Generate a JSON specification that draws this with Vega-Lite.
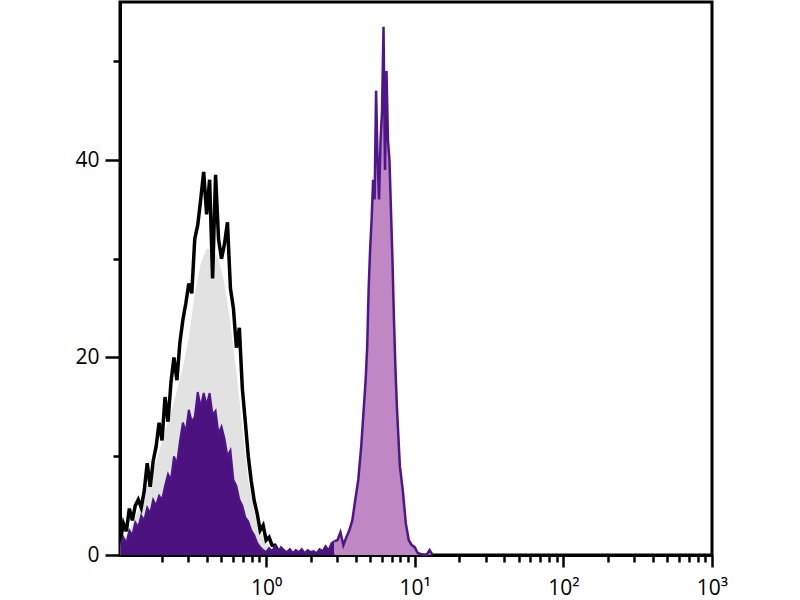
{
  "$schema": "https://vega.github.io/schema/vega-lite/v6.json",
  "width": 592,
  "height": 553,
  "autosize": "none",
  "padding": {"left": 120, "top": 2, "right": 88, "bottom": 45},
  "background": "white",
  "config": {
    "view": {"stroke": "black", "strokeWidth": 3},
    "axis": {"labelFont": "Open Sans", "labelColor": "black", "domainColor": "black", "tickColor": "black", "domainWidth": 3, "tickWidth": 2.5, "grid": false, "title": null, "labelOverlap": false, "labelFlush": false, "labelBound": false}
  },
  "datasets": {
    "ctrlFill": [
      {"v": 0.1047, "count": 1.0}, {"v": 0.1202, "count": 2.5}, {"v": 0.138, "count": 4.5}, {"v": 0.1585, "count": 7.0},
      {"v": 0.182, "count": 9.5}, {"v": 0.2089, "count": 12.5}, {"v": 0.2399, "count": 15.5}, {"v": 0.2754, "count": 19.0},
      {"v": 0.302, "count": 22.0}, {"v": 0.3311, "count": 26.5}, {"v": 0.3631, "count": 29.5}, {"v": 0.3981, "count": 31.0},
      {"v": 0.4365, "count": 31.0}, {"v": 0.4786, "count": 30.0}, {"v": 0.5248, "count": 27.5}, {"v": 0.5754, "count": 23.5},
      {"v": 0.631, "count": 18.5}, {"v": 0.6918, "count": 13.0}, {"v": 0.7586, "count": 7.5}, {"v": 0.8318, "count": 4.5},
      {"v": 0.912, "count": 2.5}, {"v": 1.0, "count": 1.2}, {"v": 1.096, "count": 0.5}, {"v": 1.259, "count": 0}
    ],
    "ctrl": [
      {"v": 0.1047, "count": 1.5}, {"v": 0.1096, "count": 3.2}, {"v": 0.1148, "count": 2.4}, {"v": 0.1202, "count": 4.7},
      {"v": 0.1259, "count": 3.5}, {"v": 0.1318, "count": 5.0}, {"v": 0.138, "count": 5.6}, {"v": 0.1445, "count": 4.8},
      {"v": 0.1514, "count": 6.5}, {"v": 0.1585, "count": 9.3}, {"v": 0.166, "count": 6.9}, {"v": 0.1738, "count": 9.5},
      {"v": 0.182, "count": 11.0}, {"v": 0.1905, "count": 13.4}, {"v": 0.1995, "count": 11.6}, {"v": 0.2089, "count": 16.0},
      {"v": 0.2188, "count": 13.5}, {"v": 0.2291, "count": 17.5}, {"v": 0.2399, "count": 20.0}, {"v": 0.2512, "count": 17.7},
      {"v": 0.263, "count": 21.5}, {"v": 0.2754, "count": 23.8}, {"v": 0.2884, "count": 25.5}, {"v": 0.302, "count": 27.5},
      {"v": 0.3162, "count": 26.5}, {"v": 0.3311, "count": 32.0}, {"v": 0.3467, "count": 33.4}, {"v": 0.3631, "count": 36.0},
      {"v": 0.3802, "count": 38.8}, {"v": 0.3981, "count": 34.5}, {"v": 0.4169, "count": 38.0}, {"v": 0.4365, "count": 28.0},
      {"v": 0.4571, "count": 38.5}, {"v": 0.4786, "count": 32.0}, {"v": 0.5012, "count": 30.0}, {"v": 0.5248, "count": 31.5},
      {"v": 0.5495, "count": 33.7}, {"v": 0.5754, "count": 27.0}, {"v": 0.6026, "count": 25.0}, {"v": 0.631, "count": 21.0},
      {"v": 0.6607, "count": 23.0}, {"v": 0.6918, "count": 16.9}, {"v": 0.7244, "count": 13.5}, {"v": 0.7586, "count": 10.0},
      {"v": 0.7943, "count": 7.5}, {"v": 0.8318, "count": 5.5}, {"v": 0.871, "count": 4.2}, {"v": 0.912, "count": 2.5},
      {"v": 0.955, "count": 3.0}, {"v": 1.0, "count": 1.5}, {"v": 1.047, "count": 1.8}, {"v": 1.096, "count": 1.0},
      {"v": 1.148, "count": 1.0}, {"v": 1.202, "count": 0.4}, {"v": 1.259, "count": 0.2}, {"v": 1.318, "count": 0}
    ],
    "stainedLow": [
      {"v": 0.1047, "count": 1.0}, {"v": 0.1096, "count": 1.8}, {"v": 0.1148, "count": 1.2}, {"v": 0.1202, "count": 2.5},
      {"v": 0.1259, "count": 2.0}, {"v": 0.1318, "count": 3.3}, {"v": 0.138, "count": 2.8}, {"v": 0.1445, "count": 4.0},
      {"v": 0.1514, "count": 3.5}, {"v": 0.1585, "count": 4.8}, {"v": 0.166, "count": 4.2}, {"v": 0.1738, "count": 5.6},
      {"v": 0.182, "count": 5.0}, {"v": 0.1905, "count": 6.0}, {"v": 0.1995, "count": 5.6}, {"v": 0.2089, "count": 7.0},
      {"v": 0.2188, "count": 8.2}, {"v": 0.2291, "count": 7.6}, {"v": 0.2399, "count": 10.0}, {"v": 0.2512, "count": 9.2},
      {"v": 0.263, "count": 11.5}, {"v": 0.2754, "count": 13.4}, {"v": 0.2884, "count": 12.5}, {"v": 0.302, "count": 14.7},
      {"v": 0.3162, "count": 13.5}, {"v": 0.3311, "count": 14.0}, {"v": 0.3467, "count": 16.5}, {"v": 0.3631, "count": 15.0},
      {"v": 0.3802, "count": 16.4}, {"v": 0.3981, "count": 15.2}, {"v": 0.4169, "count": 16.4}, {"v": 0.4365, "count": 14.2},
      {"v": 0.4571, "count": 14.6}, {"v": 0.4786, "count": 12.3}, {"v": 0.5012, "count": 13.0}, {"v": 0.5248, "count": 11.8},
      {"v": 0.5495, "count": 10.0}, {"v": 0.5754, "count": 10.6}, {"v": 0.6026, "count": 7.6}, {"v": 0.631, "count": 7.0},
      {"v": 0.6607, "count": 5.6}, {"v": 0.6918, "count": 5.0}, {"v": 0.7244, "count": 3.8}, {"v": 0.7586, "count": 3.4},
      {"v": 0.7943, "count": 2.5}, {"v": 0.8318, "count": 2.0}, {"v": 0.871, "count": 1.2}, {"v": 0.912, "count": 0.8},
      {"v": 0.955, "count": 0.5}, {"v": 1.0, "count": 0.3}, {"v": 1.047, "count": 0.7}, {"v": 1.096, "count": 0.4},
      {"v": 1.148, "count": 0.9}, {"v": 1.202, "count": 0.3}, {"v": 1.259, "count": 0.8}, {"v": 1.318, "count": 0.5},
      {"v": 1.38, "count": 0.3}, {"v": 1.445, "count": 0.6}, {"v": 1.514, "count": 0.2}, {"v": 1.585, "count": 0.5},
      {"v": 1.66, "count": 0.3}, {"v": 1.738, "count": 0.6}, {"v": 1.82, "count": 0.2}, {"v": 1.905, "count": 0.5},
      {"v": 1.995, "count": 0.3}, {"v": 2.089, "count": 0.4}, {"v": 2.188, "count": 0.2}, {"v": 2.291, "count": 0.6},
      {"v": 2.399, "count": 0.4}, {"v": 2.512, "count": 0.9}, {"v": 2.63, "count": 0.5}, {"v": 2.754, "count": 1.2},
      {"v": 2.884, "count": 1.4}
    ],
    "stainedHigh": [
      {"v": 2.884, "count": 1.4}, {"v": 3.02, "count": 1.5}, {"v": 3.162, "count": 2.3}, {"v": 3.311, "count": 1.0},
      {"v": 3.467, "count": 1.8}, {"v": 3.631, "count": 2.5}, {"v": 3.802, "count": 3.5}, {"v": 3.981, "count": 5.6},
      {"v": 4.169, "count": 7.6}, {"v": 4.365, "count": 11.0}, {"v": 4.571, "count": 15.5}, {"v": 4.677, "count": 17.8},
      {"v": 4.786, "count": 21.0}, {"v": 4.898, "count": 27.0}, {"v": 5.012, "count": 31.0}, {"v": 5.129, "count": 34.0},
      {"v": 5.248, "count": 38.0}, {"v": 5.37, "count": 36.0}, {"v": 5.495, "count": 47.0}, {"v": 5.623, "count": 40.0},
      {"v": 5.754, "count": 36.0}, {"v": 5.888, "count": 42.0}, {"v": 6.026, "count": 45.0}, {"v": 6.166, "count": 53.5},
      {"v": 6.31, "count": 39.0}, {"v": 6.457, "count": 49.0}, {"v": 6.607, "count": 42.0}, {"v": 6.761, "count": 40.0},
      {"v": 6.918, "count": 35.0}, {"v": 7.079, "count": 30.0}, {"v": 7.244, "count": 24.0}, {"v": 7.413, "count": 19.0},
      {"v": 7.586, "count": 15.0}, {"v": 7.762, "count": 12.0}, {"v": 7.943, "count": 9.0}, {"v": 8.318, "count": 6.5},
      {"v": 8.71, "count": 3.2}, {"v": 9.12, "count": 1.5}, {"v": 9.55, "count": 1.0}, {"v": 10.0, "count": 0.8},
      {"v": 10.47, "count": 0.2}, {"v": 10.96, "count": 0.1}, {"v": 11.48, "count": 0}, {"v": 12.02, "count": 0},
      {"v": 12.59, "count": 0.5}, {"v": 13.18, "count": 0}
    ]
  },
  "encoding": {
    "x": {
      "field": "v", "type": "quantitative",
      "scale": {"type": "log", "domain": [0.104, 1000], "nice": false},
      "axis": {
        "values": [0.2, 0.3, 0.4, 0.5, 0.6, 0.7, 0.8, 0.9, 1, 2, 3, 4, 5, 6, 7, 8, 9, 10, 20, 30, 40, 50, 60, 70, 80, 90, 100, 200, 300, 400, 500, 600, 700, 800, 900, 1000],
        "labelExpr": "datum.value == 1 ? '10⁰' : datum.value == 10 ? '10¹' : datum.value == 100 ? '10²' : datum.value == 1000 ? '10³' : ''",
        "tickSize": {"condition": {"test": "datum.value == 1 || datum.value == 10 || datum.value == 100 || datum.value == 1000", "value": 12}, "value": 7},
        "labelFontSize": 21,
        "labelPadding": 10
      }
    },
    "y": {
      "field": "count", "type": "quantitative",
      "scale": {"domain": [0, 56], "nice": false, "zero": true},
      "axis": {
        "values": [0, 10, 20, 30, 40, 50],
        "labelExpr": "datum.value % 20 == 0 ? datum.label : ''",
        "tickSize": {"condition": {"test": "datum.value % 20 == 0", "value": 15}, "value": 7},
        "labelFontSize": 21,
        "labelPadding": 6
      }
    }
  },
  "layer": [
    {"data": {"name": "ctrlFill"}, "mark": {"type": "area", "color": "#e2e2e2", "opacity": 1, "interpolate": "linear"}},
    {"data": {"name": "ctrl"}, "mark": {"type": "line", "color": "black", "strokeWidth": 3.5, "interpolate": "linear"}},
    {"data": {"name": "stainedLow"}, "mark": {"type": "area", "color": "#4b127f", "opacity": 1, "interpolate": "linear", "line": {"color": "#4f1786", "strokeWidth": 2}}},
    {"data": {"name": "stainedHigh"}, "mark": {"type": "area", "color": "#bf88c5", "opacity": 1, "interpolate": "linear", "line": {"color": "#4f1786", "strokeWidth": 2.5}}}
  ]
}
